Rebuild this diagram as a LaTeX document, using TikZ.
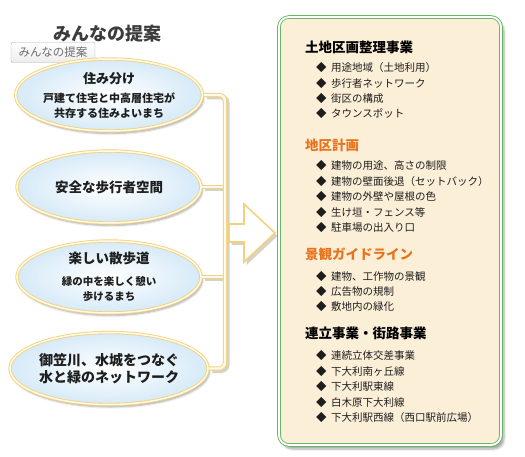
\documentclass[tikz,border=0pt]{standalone}
\usepackage{fontspec}
\setmainfont{Noto Sans CJK JP}
\usepackage{tikz}
\usetikzlibrary{positioning,calc,shapes.geometric,shadows.blur}
\definecolor{pYel}{RGB}{242,210,130}
\definecolor{pCream}{RGB}{255,251,232}
\definecolor{pBlue}{RGB}{214,234,248}
\definecolor{pGreen}{RGB}{100,186,100}
\definecolor{pFill}{RGB}{252,239,216}
\definecolor{pOrange}{RGB}{232,115,30}
\definecolor{pShadow}{RGB}{214,210,198}
\definecolor{pText}{RGB}{30,30,30}
\definecolor{pTitle}{RGB}{60,60,60}
\tikzset{
  idea/.style={ellipse, draw=pYel, double=pCream, double distance=1.5pt, line width=0.9pt,
               inner color=white, outer color=pBlue, minimum width=184pt, minimum height=72pt,
               inner sep=0pt, align=center, text=pText,
               font=\fontsize{11}{15}\selectfont\bfseries,
               blur shadow={shadow xshift=1.5pt, shadow yshift=-2.5pt, shadow blur radius=2pt,
                            shadow opacity=35}},
  link/.style={draw=pYel, double=pCream, double distance=2.4pt, line width=1pt,
               rounded corners=6pt},
  linkshade/.style={draw=pShadow, line width=5pt, rounded corners=6pt,
                    transform canvas={shift={(2pt,-2pt)}}},
  bigarrow/.style={draw=pYel, line width=1.6pt, fill=white, line join=miter},
  arrowshade/.style={fill=pShadow, transform canvas={shift={(2.5pt,-3pt)}}},
  plan/.style={rectangle, rounded corners=10pt, draw=pGreen, double=white,
               double distance=1.8pt, line width=0.9pt, fill=pFill,
               minimum width=222pt, minimum height=428pt,
               blur shadow={shadow xshift=3pt, shadow yshift=-4pt, shadow opacity=35}},
  ttl/.style={font=\fontsize{18}{20}\selectfont\bfseries, text=pTitle},
  tip/.style={draw=gray!65, rounded corners=2pt, top color=white, bottom color=gray!14,
              minimum width=84pt, minimum height=20pt, inner sep=0pt,
              font=\fontsize{11.5}{13}\selectfont, text=gray!85!black},
  head/.style={anchor=west, inner sep=0pt, font=\fontsize{13.5}{16}\selectfont\bfseries,
               text=black},
  headx/.style={head, text=pOrange},
  item/.style={anchor=west, inner sep=0pt, font=\fontsize{10.5}{12}\selectfont, text=pText},
}

\begin{document}
\begin{tikzpicture}[x=1pt,y=-1pt]
  \useasboundingbox (0,0) rectangle (525,457);

  % left: proposals
  \node[ttl] (title) at (107,34) {みんなの提案};
  \node[tip] (tip) at (53,52.5) {みんなの提案};

  \node[idea] (e1) at (109,95)
       {{\fontsize{13}{15}\selectfont 住み分け}\\[4pt]
        戸建て住宅と中高層住宅が\\
        共存する住みよいまち};
  \node[idea] (e2) at (109,187) {{\fontsize{13.5}{15}\selectfont 安全な歩行者空間}};
  \node[idea] (e3) at (109,277)
       {{\fontsize{13.5}{15}\selectfont 楽しい散歩道}\\[7pt]
        {\fontsize{10.5}{15}\selectfont 緑の中を楽しく憩い}\\
        {\fontsize{10.5}{15}\selectfont 歩けるまち}};
  \node[idea, font=\fontsize{14}{17}\selectfont\bfseries] (e4) at (109,368.5)
       {御笠川、水城をつなぐ\\水と緑のネットワーク};

  % connectors to the bar
  \coordinate (bar) at (225,0);
  \draw[linkshade] ([xshift=2pt]e1.east) -- (e1.east -| bar) -- (e4.east -| bar)
                   -- ([xshift=2pt]e4.east);
  \draw[linkshade] ([xshift=2pt]e2.east) -- (e2.east -| bar);
  \draw[linkshade] ([xshift=2pt]e3.east) -- (e3.east -| bar);
  \draw[link] ([xshift=1pt]e2.east) -- (e2.east -| bar);
  \draw[link] ([xshift=1pt]e3.east) -- (e3.east -| bar);
  \draw[link] ([xshift=1pt]e1.east) -- (e1.east -| bar) -- (e4.east -| bar)
              -- ([xshift=1pt]e4.east);

  \path[arrowshade] (229,224) -- (244,224) -- (244,204) -- (275,233)
                    -- (244,262) -- (244,242) -- (229,242) -- cycle;
  \path[bigarrow] (229,224) -- (244,224) -- (244,204) -- (275,233)
                  -- (244,262) -- (244,242) -- (229,242) -- cycle;

  % right: measures
  \node[plan] (plan) at (390,231) {};

  \node[head] (h1) at (305,47) {土地区画整理事業};
  \foreach \t [count=\i from 0] in {用途地域（土地利用）, 歩行者ネットワーク,
                                   街区の構成, タウンスポット}
    \node[item] (s1-\i) at (316,{68+15.2*\i}) {◆\hspace{4.5pt}\t};

  \node[headx] (h2) at (305,145) {地区計画};
  \foreach \t [count=\i from 0] in {建物の用途、高さの制限, 建物の壁面後退（セットバック）,
                                   建物の外壁や屋根の色, 生け垣・フェンス等, 駐車場の出入り口}
    \node[item] (s2-\i) at (316,{166+15.5*\i}) {◆\hspace{4.5pt}\t};

  \node[headx] (h3) at (305,254) {景観ガイドライン};
  \foreach \t [count=\i from 0] in {建物、工作物の景観, 広告物の規制, 敷地内の緑化}
    \node[item] (s3-\i) at (316,{277+15*\i}) {◆\hspace{4.5pt}\t};

  \node[head] (h4) at (305,333) {連立事業・街路事業};
  \foreach \t [count=\i from 0] in {連続立体交差事業, 下大利南ヶ丘線, 下大利駅東線,
                                   白木原下大利線, 下大利駅西線（西口駅前広場）}
    \node[item] (s4-\i) at (316,{356+15.5*\i}) {◆\hspace{4.5pt}\t};
\end{tikzpicture}
\end{document}
